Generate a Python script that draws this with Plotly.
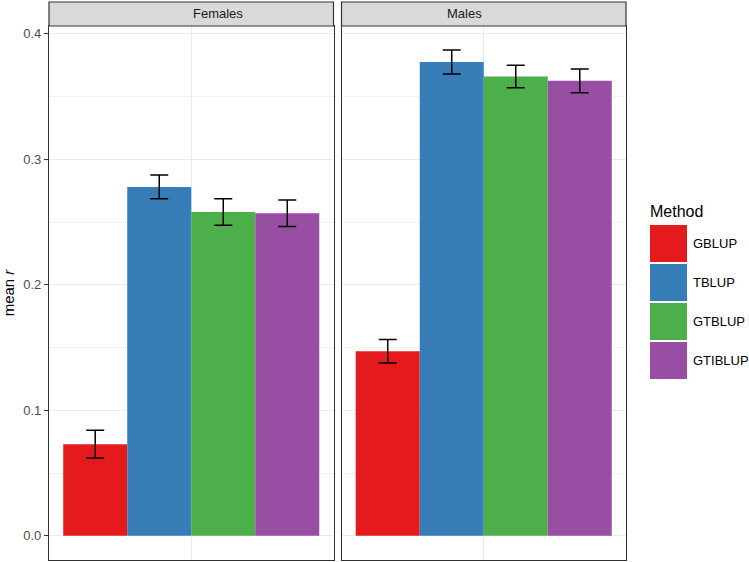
import plotly.graph_objects as go
from plotly.subplots import make_subplots

panels = ["Females", "Males"]
methods = ["GBLUP", "TBLUP", "GTBLUP", "GTIBLUP"]
colors = ["#E41A1C", "#377EB8", "#4DAF4A", "#984EA3"]

mean_r = {
    "Females": [0.073, 0.278, 0.258, 0.257],
    "Males": [0.147, 0.3775, 0.366, 0.3625],
}
se_r = {
    "Females": [0.011, 0.0095, 0.0105, 0.0105],
    "Males": [0.0093, 0.0095, 0.009, 0.0095],
}

y_ticks = [0.0, 0.1, 0.2, 0.3, 0.4]

W, H = 749, 562
L, R, T, B = 49, 123, 26, 2
pw, ph = W - L - R, H - T - B


def px_x(x):
    return (x - L) / pw


def px_y(y):
    return (H - B - y) / ph


fig = make_subplots(rows=1, cols=2, shared_yaxes=True,
                    horizontal_spacing=8 / pw)

for c, panel in enumerate(panels, start=1):
    for i, m in enumerate(methods):
        fig.add_trace(go.Bar(
            x=[panel], y=[mean_r[panel][i]], name=m,
            marker=dict(color=colors[i], line=dict(width=0)),
            error_y=dict(type="data", array=[se_r[panel][i]],
                         color="black", thickness=1.5, width=9),
            showlegend=False,
        ), row=1, col=c)

grid = "#EBEBEB"
for c in (1, 2):
    fig.update_xaxes(row=1, col=c, range=[-0.5, 0.5], showticklabels=False,
                     ticks="", showgrid=True, gridcolor=grid, gridwidth=1,
                     showline=True, linecolor="#333333", linewidth=1.2,
                     mirror=True, zeroline=False)
    fig.update_yaxes(row=1, col=c, range=[-0.0193, 0.4062],
                     tickvals=y_ticks, showgrid=True, gridcolor=grid,
                     gridwidth=1,
                     minor=dict(dtick=0.05, tick0=0.05, showgrid=True,
                                gridcolor="#F3F3F3", gridwidth=0.6),
                     showline=True, linecolor="#333333", linewidth=1.2,
                     mirror=True, zeroline=False)

fig.update_yaxes(row=1, col=1, ticks="outside", ticklen=4,
                 tickcolor="#333333", tickformat=".1f",
                 tickfont=dict(size=13, color="#4D4D4D"),
                 title=dict(text="mean <i>r</i>", standoff=8,
                            font=dict(size=15, color="black")))

# facet strips
strip_top = px_y(2)
for c, panel in enumerate(panels, start=1):
    dom = fig.layout["xaxis" if c == 1 else "xaxis2"].domain
    fig.add_shape(type="rect", xref="paper", yref="paper",
                  x0=dom[0], x1=dom[1], y0=1, y1=strip_top,
                  fillcolor="#D9D9D9", line=dict(color="#333333", width=1.2))
    fig.add_annotation(text=panel, xref="paper", yref="paper",
                       x=(dom[0] + dom[1]) / 2, y=(1 + strip_top) / 2,
                       yanchor="middle", showarrow=False,
                       font=dict(size=13, color="#1A1A1A"))

# legend drawn by hand to get ggplot-sized keys
fig.add_annotation(text="Method", xref="paper", yref="paper",
                   x=px_x(648), y=px_y(212), xanchor="left", yanchor="middle",
                   showarrow=False, font=dict(size=16, color="black"))
for i, m in enumerate(methods):
    top = 225 + i * 39
    fig.add_shape(type="rect", xref="paper", yref="paper",
                  x0=px_x(650), x1=px_x(687), y0=px_y(top), y1=px_y(top + 37),
                  fillcolor=colors[i], line=dict(width=0))
    fig.add_annotation(text=m, xref="paper", yref="paper",
                       x=px_x(691), y=px_y(top + 18.5), xanchor="left",
                       yanchor="middle", showarrow=False,
                       font=dict(size=13, color="black"))

fig.update_layout(
    width=W, height=H,
    margin=dict(l=L, r=R, t=T, b=B, autoexpand=False),
    barmode="group", bargap=0.1, bargroupgap=0,
    plot_bgcolor="white", paper_bgcolor="white",
    font=dict(family="Liberation Sans, Arial, sans-serif"),
    showlegend=False,
)

fig.write_html("out.html", config={"displayModeBar": False},
               post_script="document.body.style.margin='0';")
